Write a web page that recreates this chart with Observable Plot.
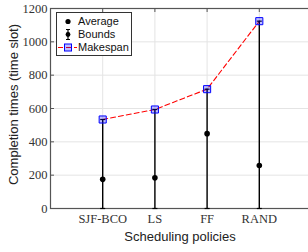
<!DOCTYPE html>
<html>
<head>
<meta charset="utf-8">
<script src="https://cdn.jsdelivr.net/npm/d3@7"></script>
<script src="https://cdn.jsdelivr.net/npm/@observablehq/plot@0.6"></script>
<style>
  html, body { margin: 0; padding: 0; background: #fff; overflow: hidden; }
  #wrap { position: relative; width: 308px; height: 252px; overflow: hidden; }
  #wrap svg { max-width: none !important; }
  #wrap svg text.serif { font-family: "Liberation Serif", "Times New Roman", serif !important; }
  #legend { position: absolute; left: 56px; top: 12px; width: 74px; height: 42px;
    border: 1px solid #333; background: #fff; font-family: "Liberation Sans", Arial, sans-serif;
    font-size: 11px; color: #111; }
  #legend .row { position: absolute; left: 0; height: 13px; line-height: 13px; white-space: nowrap; }
  #legend svg { position: absolute; left: 0; top: 0; }
  #legend span { position: absolute; left: 21px; top: 0; }
</style>
</head>
<body>
<div id="wrap"></div>
<script>
const categories = ["SJF-BCO", "LS", "FF", "RAND"];
const makespan = [534, 594, 716, 1124];
const average = [175, 184, 449, 258];
const lowerBound = [0, 0, 0, 0];
const yTicks = [0, 200, 400, 600, 800, 1000, 1200];
const legendLabels = ["Average", "Bounds", "Makespan"];

const idx = categories.map((_, i) => i);
const xPos = i => i + 1;

const capSymbol = {
  draw(context, size) {
    const r = Math.sqrt(size / Math.PI);
    context.moveTo(-r, 0);
    context.lineTo(r, 0);
  }
};
// inward tick glyphs for the axis frame
const downTick = { draw(context, size) { const r = Math.sqrt(size / Math.PI); context.moveTo(0, 0); context.lineTo(0, r); } };
const rightTick = { draw(context, size) { const r = Math.sqrt(size / Math.PI); context.moveTo(0, 0); context.lineTo(r, 0); } };

const sans = "'Liberation Sans', Arial, sans-serif";
const serif = "'Liberation Serif', 'Times New Roman', serif";
const yMax = yTicks[yTicks.length - 1];

const chart = Plot.plot({
  width: 311,
  height: 252,
  marginLeft: 50,
  marginRight: 0,
  marginTop: 8,
  marginBottom: 44,
  style: { background: "#fff", color: "#333", overflow: "visible", maxWidth: "none" },
  x: { domain: [0, 5], axis: null },
  y: { domain: [0, yMax], axis: null },
  marks: [
    Plot.gridY(yTicks, { stroke: "#e4e4e4", strokeOpacity: 1 }),
    Plot.gridX(idx.map(xPos), { stroke: "#e4e4e4", strokeOpacity: 1 }),
    Plot.axisY(yTicks, { tickSize: 0, tickPadding: 3, label: null, fontSize: 12.5, fill: "#333",
      fontFamily: serif, tickFormat: d => String(d) }),
    Plot.axisX(idx.map(xPos), { tickSize: 0, tickPadding: 6, label: null, fontSize: 12.5, fill: "#333",
      fontFamily: serif, tickFormat: v => categories[v - 1] }),
    Plot.frame({ stroke: "#555", strokeWidth: 1.2 }),
    Plot.dot(idx, { x: xPos, y: yMax, symbol: downTick, r: 3.5, stroke: "#555", strokeWidth: 1 }),
    Plot.dot(yTicks, { x: 0, y: d => d, symbol: rightTick, r: 3.5, stroke: "#555", strokeWidth: 1 }),
    Plot.line(idx, { x: xPos, y: i => makespan[i], stroke: "red", strokeWidth: 1.1, strokeDasharray: "5,3" }),
    Plot.ruleX(idx, { x: xPos, y1: i => lowerBound[i], y2: i => makespan[i], stroke: "#000", strokeWidth: 1.4 }),
    Plot.dot(idx, { x: xPos, y: i => lowerBound[i], symbol: capSymbol, r: 2.5, stroke: "#000", strokeWidth: 1.2 }),
    Plot.dot(idx, { x: xPos, y: i => makespan[i], symbol: capSymbol, r: 2.5, stroke: "#000", strokeWidth: 1.2 }),
    Plot.dot(idx, { x: xPos, y: i => makespan[i], symbol: "square", r: 4, stroke: "#0000ff", strokeWidth: 1,
      fill: "#0000ff", fillOpacity: 0.25 }),
    Plot.dot(idx, { x: xPos, y: i => average[i], r: 2.8, fill: "#000" }),
    Plot.text(["Completion times (time slot)"], { frameAnchor: "left", dx: -37, dy: -4, rotate: -90,
      textAnchor: "middle", lineAnchor: "middle", fontSize: 13, fontFamily: sans, fill: "#222" }),
    Plot.text(["Scheduling policies"], { frameAnchor: "bottom", dy: 28, dx: -1, lineAnchor: "middle",
      fontSize: 13, fontFamily: sans, fill: "#222" })
  ]
});

const wrap = document.getElementById("wrap");
wrap.appendChild(chart);

// Serif tick labels (as in the original figure)
const tickTexts = new Set([...categories, ...yTicks.map(String)]);
d3.select(chart).selectAll("text").each(function () {
  if (tickTexts.has(this.textContent.trim())) {
    this.classList.add("serif");
    this.style.fontFamily = serif;
  }
});

// Legend (HTML overlay inside the axes, as in the original)
const legend = document.createElement("div");
legend.id = "legend";
const icons = [
  `<svg width="20" height="13"><circle cx="11" cy="6.5" r="2.6" fill="#000"/></svg>`,
  `<svg width="20" height="13"><line x1="11" y1="1.5" x2="11" y2="11.5" stroke="#000" stroke-width="1.2"/>
     <line x1="9" y1="1.5" x2="13" y2="1.5" stroke="#000"/><line x1="9" y1="11.5" x2="13" y2="11.5" stroke="#000"/>
     <circle cx="11" cy="6.5" r="2.4" fill="#000"/></svg>`,
  `<svg width="20" height="13"><line x1="1" y1="6.5" x2="21" y2="6.5" stroke="red" stroke-width="1.1" stroke-dasharray="5,3"/>
     <rect x="7.5" y="3" width="7" height="7" fill="#0000ff" fill-opacity="0.25" stroke="#0000ff"/></svg>`
];
legendLabels.forEach((label, i) => {
  const row = document.createElement("div");
  row.className = "row";
  row.style.top = (2 + i * 13) + "px";
  row.innerHTML = icons[i] + `<span>${label}</span>`;
  legend.appendChild(row);
});
wrap.appendChild(legend);
</script>
</body>
</html>
